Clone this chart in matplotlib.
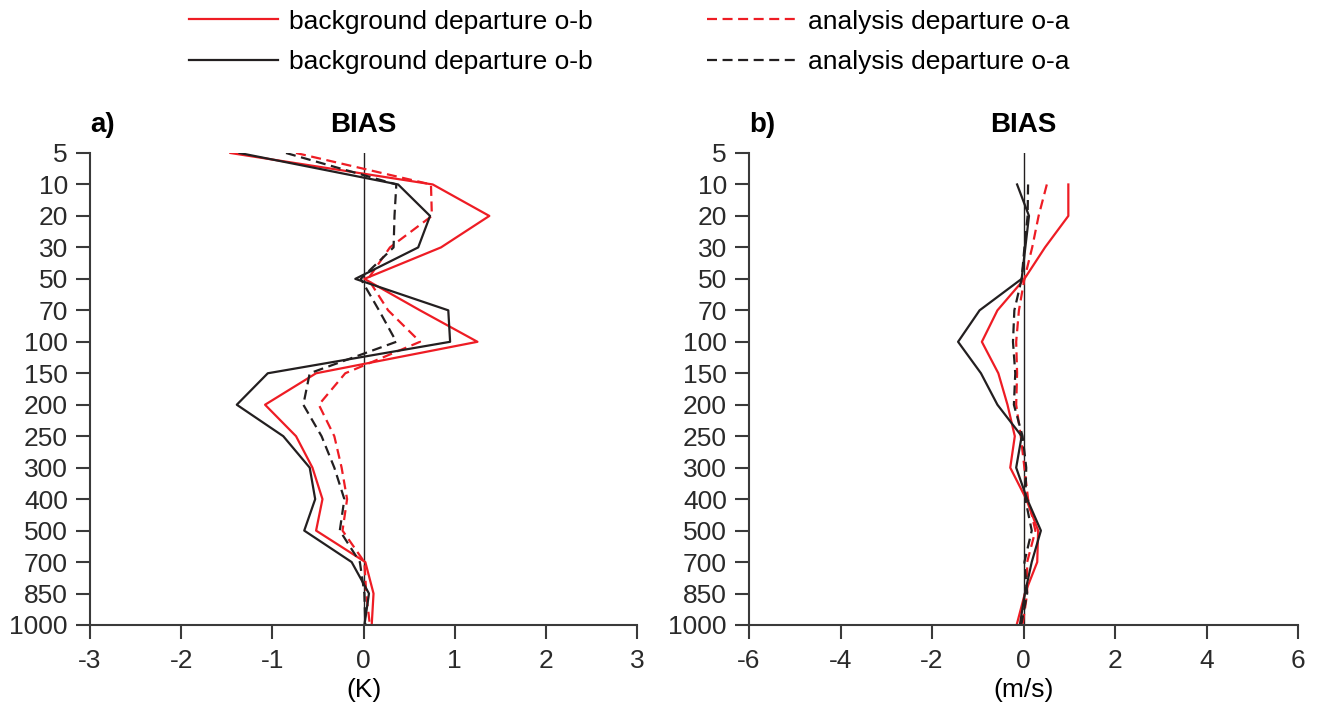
import numpy as np
import matplotlib
matplotlib.use('Agg')
import matplotlib.pyplot as plt

plt.rcParams['font.family'] = ['Liberation Sans', 'DejaVu Sans']
plt.rcParams['axes.unicode_minus'] = False

# pressure levels (hPa), plotted equally spaced top->bottom
levels = [5, 10, 20, 30, 50, 70, 100, 150, 200, 250, 300, 400, 500, 700, 850, 1000]

# panel a) temperature bias (K)
a_red_ob = [-1.46, 0.76, 1.38, 0.85, 0.01, 0.62, 1.25, -0.52, -1.08, -0.74, -0.56, -0.45, -0.52, 0.02, 0.11, 0.09]
a_red_oa = [-0.74, 0.74, 0.75, 0.29, 0.05, 0.27, 0.62, -0.20, -0.49, -0.32, -0.24, -0.18, -0.23, 0.01, 0.03, 0.07]
a_blk_ob = [-1.36, 0.38, 0.73, 0.60, -0.09, 0.93, 0.95, -1.05, -1.39, -0.88, -0.59, -0.53, -0.65, -0.13, 0.06, 0.01]
a_blk_oa = [-0.85, 0.36, 0.34, 0.33, -0.03, 0.17, 0.36, -0.59, -0.66, -0.46, -0.32, -0.21, -0.26, -0.04, 0.01, 0.02]

# panel b) wind bias (m/s), no value at 5 hPa
b_red_ob = [np.nan, 0.98, 0.98, 0.47, 0.02, -0.57, -0.91, -0.55, -0.35, -0.19, -0.29, 0.06, 0.32, 0.30, 0.03, -0.15]
b_red_oa = [np.nan, 0.51, 0.33, 0.19, 0.02, -0.10, -0.16, -0.14, -0.16, -0.06, 0.02, 0.10, 0.26, 0.08, 0.08, -0.02]
b_blk_ob = [np.nan, -0.14, 0.12, 0.04, -0.04, -0.96, -1.43, -0.93, -0.57, -0.04, -0.16, 0.08, 0.38, 0.18, 0.03, -0.08]
b_blk_oa = [np.nan, 0.10, 0.09, 0.02, -0.04, -0.20, -0.23, -0.18, -0.21, -0.02, 0.06, 0.04, 0.18, 0.02, 0.08, -0.05]

RED = '#ee1c24'
BLK = '#231f20'
DASH = (0, (4.5, 2.5))
FS = 19

fig = plt.figure(figsize=(13.19, 7.11), dpi=100)
W, H = 1319, 711
ax1 = fig.add_axes([90 / W, 1 - 625 / H, 547 / W, 472 / H])
ax2 = fig.add_axes([749 / W, 1 - 625 / H, 549 / W, 472 / H])

y = np.arange(len(levels))


def draw(ax, ob_r, oa_r, ob_k, oa_k, lim, step, unit, letter):
    ax.axvline(0, color=BLK, lw=1.0, zorder=1)
    l1, = ax.plot(ob_r, y, color=RED, lw=1.6, label='background departure o-b')
    l3, = ax.plot(oa_r, y, color=RED, lw=1.6, ls=DASH, label='analysis departure o-a')
    l2, = ax.plot(ob_k, y, color=BLK, lw=1.6, label='background departure o-b')
    l4, = ax.plot(oa_k, y, color=BLK, lw=1.6, ls=DASH, label='analysis departure o-a')
    ax.set_xlim(-lim, lim)
    ax.set_xticks(np.arange(-lim, lim + 1, step))
    ax.set_ylim(len(levels) - 1, 0)
    ax.set_yticks(y)
    ax.set_yticklabels([str(l) for l in levels])
    for s in ['top', 'right']:
        ax.spines[s].set_visible(False)
    for s in ['left', 'bottom']:
        ax.spines[s].set_linewidth(1.5)
        ax.spines[s].set_color('#3a3a3a')
    ax.tick_params(axis='y', direction='out', length=10, width=1.5, color='#3a3a3a',
                   labelsize=FS, labelcolor='#2a2a2a', pad=6)
    ax.tick_params(axis='x', direction='out', length=10, width=1.5, color='#3a3a3a',
                   labelsize=FS, labelcolor='#2a2a2a', pad=7)
    ax.set_xlabel(unit, fontsize=FS, labelpad=4)
    ax.set_title('BIAS', fontsize=20, fontweight='bold', pad=15)
    ax.text(0.0, 1.032, letter, transform=ax.transAxes, fontsize=20,
            fontweight='bold', ha='left', va='bottom')
    return [l1, l2, l3, l4]


handles = draw(ax1, a_red_ob, a_red_oa, a_blk_ob, a_blk_oa, 3, 1, '(K)', 'a)')
draw(ax2, b_red_ob, b_red_oa, b_blk_ob, b_blk_oa, 6, 2, '(m/s)', 'b)')

fig.legend(handles=handles, ncol=2, frameon=False, fontsize=FS,
           loc='upper left', bbox_to_anchor=(165 / W, 1.02),
           handlelength=3.4, handletextpad=0.4, columnspacing=4.35,
           labelspacing=0.62)

fig.savefig('out.png', dpi=100)
